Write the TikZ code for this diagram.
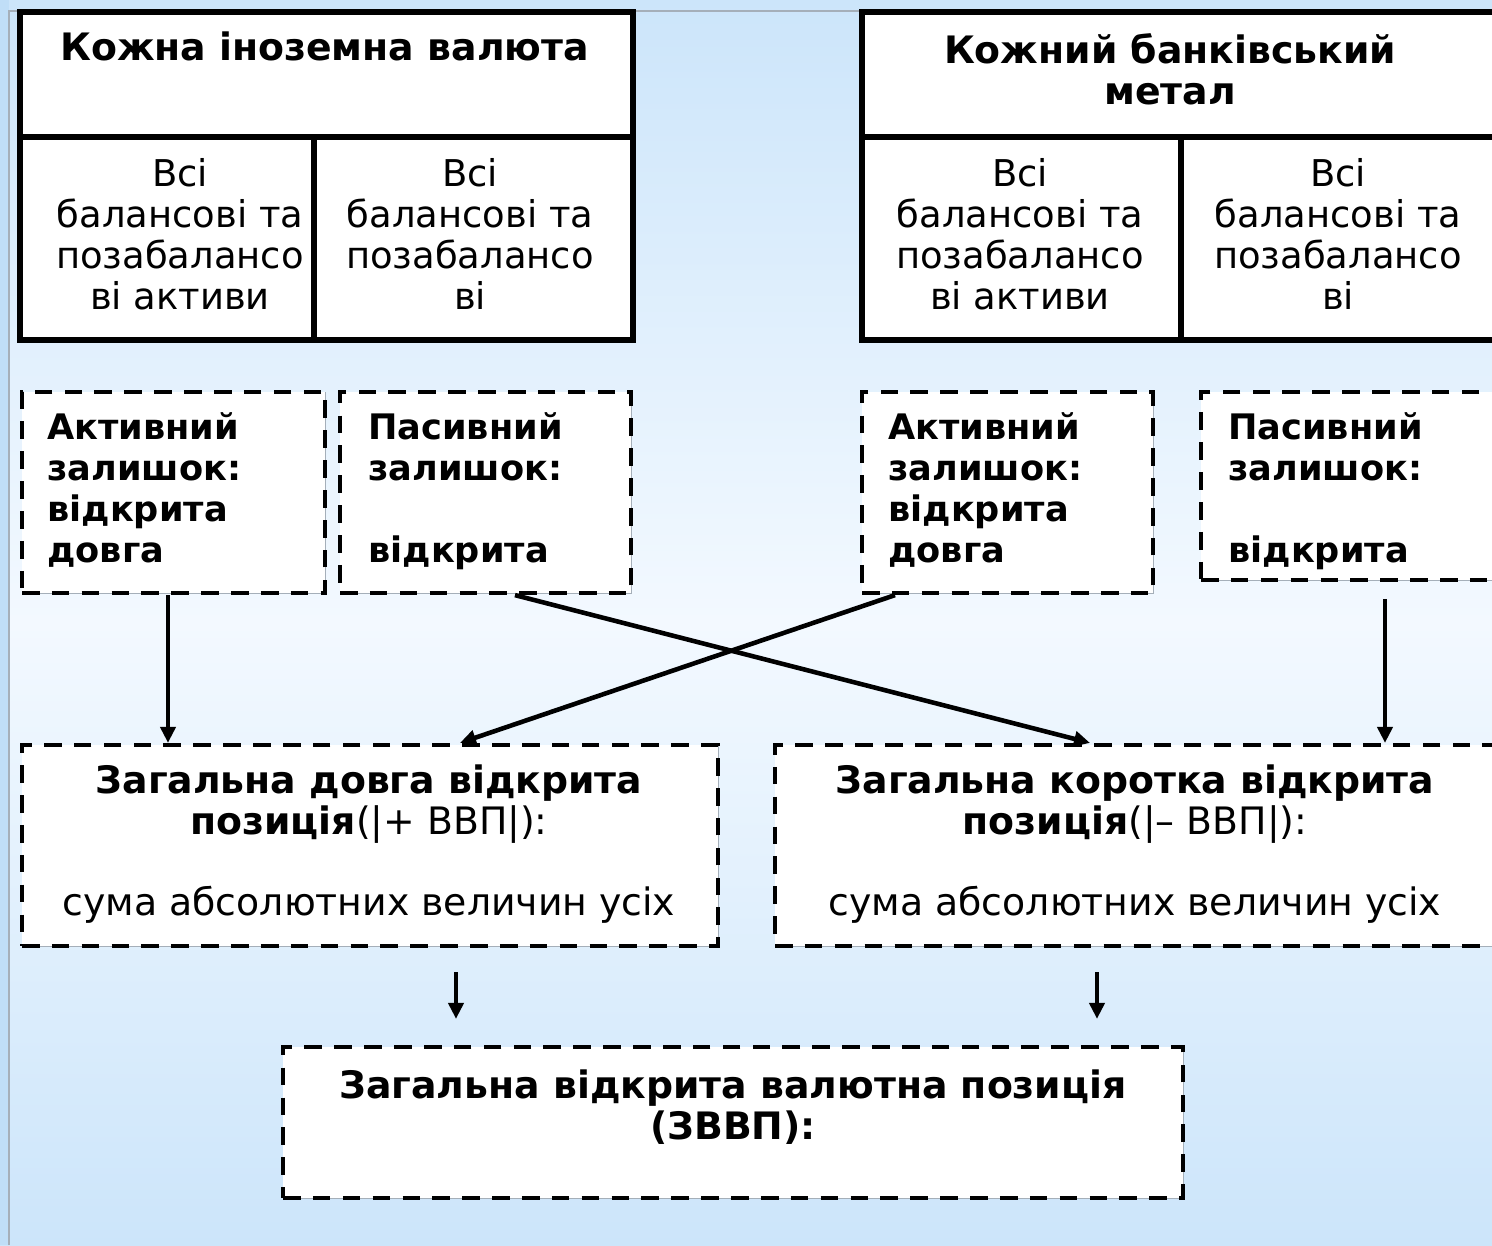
\documentclass[tikz,border=0pt]{standalone}
\usepackage{fontspec}
\setmainfont{DejaVu Sans}
\usetikzlibrary{arrows.meta, positioning, calc}

\definecolor{bgblue}{RGB}{204, 229, 250}
\definecolor{bglight}{RGB}{243, 249, 255}
\definecolor{stripblue}{RGB}{192, 222, 247}
\definecolor{framegray}{RGB}{165, 175, 185}

\tikzset{
  solidbox/.style={draw=black, line width=3pt, fill=white, inner sep=0pt},
  dashbox/.style={fill=white, draw=black, line width=2.4pt, dash pattern=on 10pt off 7pt, inner sep=0pt,
    preaction={draw=framegray, line width=0.5pt, solid}},
  headtext/.style={font=\fontsize{21.5}{23.3}\selectfont\bfseries, align=center, anchor=north, inner sep=0pt},
  celltext/.style={font=\fontsize{21}{23.3}\selectfont, align=center, anchor=north, inner sep=0pt},
  sidetext/.style={font=\fontsize{20}{23.3}\selectfont\bfseries, align=left, anchor=north west, inner sep=0pt},
  arr/.style={-{Triangle[length=0.32cm, width=0.3cm]}, line width=2.6pt}
}

\begin{document}
\begin{tikzpicture}
  \useasboundingbox (0,0) rectangle (29.84,-24.90);

  % background
  \shade[top color=bgblue, bottom color=bgblue, middle color=bglight] (0,0) rectangle (29.84,-24.90);
  \fill[stripblue] (0,0) rectangle (0.18,-24.90);
  \draw[framegray, line width=0.6pt] (0.18,-24.90) -- (0.18,-0.22) -- (17.2,-0.22);

  % foreign currency block
  \node[solidbox, minimum width=12.26cm, minimum height=2.50cm] (curhead) at (6.53, -1.49) {};
  \node[solidbox, minimum width=5.88cm, minimum height=4.06cm] (curact) at (3.34, -4.77) {};
  \node[solidbox, minimum width=6.38cm, minimum height=4.06cm] (curpas) at (9.47, -4.77) {};
  \node[headtext] (curtitle) at (6.49, -0.62) {Кожна іноземна валюта};
  \node[celltext] (curacttxt) at (3.60, -3.16) {Всі\\балансові та\\позабалансо\\ві активи};
  \node[celltext] (curpastxt) at (9.40, -3.16) {Всі\\балансові та\\позабалансо\\ві};

  % banking metal block
  \node[solidbox, minimum width=13.06cm, minimum height=2.50cm] (methead) at (23.77, -1.49) {};
  \node[solidbox, minimum width=6.38cm, minimum height=4.06cm] (metact) at (20.43, -4.77) {};
  \node[solidbox, minimum width=6.68cm, minimum height=4.06cm] (metpas) at (26.96, -4.77) {};
  \node[headtext] (mettitle) at (23.40, -0.66) {Кожний банківський\\метал};
  \node[celltext] (metacttxt) at (20.40, -3.16) {Всі\\балансові та\\позабалансо\\ві активи};
  \node[celltext] (metpastxt) at (26.76, -3.16) {Всі\\балансові та\\позабалансо\\ві};

  % balances
  \node[dashbox, minimum width=6.06cm, minimum height=4.02cm] (curlong) at (3.47, -9.85) {};
  \node[dashbox, minimum width=5.82cm, minimum height=4.02cm] (curshort) at (9.71, -9.85) {};
  \node[dashbox, minimum width=5.82cm, minimum height=4.02cm] (metlong) at (20.15, -9.85) {};
  \node[dashbox, minimum width=6.28cm, minimum height=3.76cm] (metshort) at (27.16, -9.72) {};
  \node[sidetext] (curlongtxt) at (0.94, -8.24) {Активний\\залишок:\\відкрита\\довга};
  \node[sidetext] (curshorttxt) at (7.36, -8.24) {Пасивний\\залишок:\\[23.3pt]відкрита};
  \node[sidetext] (metlongtxt) at (17.76, -8.24) {Активний\\залишок:\\відкрита\\довга};
  \node[sidetext] (metshorttxt) at (24.56, -8.24) {Пасивний\\залишок:\\[23.3pt]відкрита};

  % total long and short positions
  \node[dashbox, minimum width=13.92cm, minimum height=4.02cm] (totlong) at (7.40, -16.91) {};
  \node[dashbox, minimum width=14.80cm, minimum height=4.02cm] (totshort) at (22.90, -16.91) {};
  \node[headtext] (totlongtxt) at (7.38, -15.28) {Загальна довга відкрита\\позиція{\mdseries(|+ ВВП|):}\\[23.3pt]{\mdseries сума абсолютних величин усіх}};
  \node[headtext] (totshorttxt) at (22.70, -15.28) {Загальна коротка відкрита\\позиція{\mdseries(|– ВВП|):}\\[23.3pt]{\mdseries сума абсолютних величин усіх}};

  % total open currency position
  \node[dashbox, minimum width=18.00cm, minimum height=3.02cm] (total) at (14.66, -22.45) {};
  \node[headtext] (totaltxt) at (14.66, -21.38) {Загальна відкрита валютна позиція\\(ЗВВП):};

  % connectors
  \draw[arr] ([xshift=-0.11cm]curlong.south) -- ([xshift=-0.11cm]curlong.south |- totlong.north);
  \draw[arr] ([xshift=0.59cm]curshort.south) -- ([xshift=-1.10cm]totshort.north);
  \draw[arr] ([xshift=-2.25cm]metlong.south) -- ([xshift=1.80cm]totlong.north);
  \draw[arr, shorten <=0.34cm] ([xshift=0.54cm]metshort.south) -- ([xshift=0.54cm]metshort.south |- totshort.north);
  \draw[arr, shorten <=0.48cm, shorten >=0.52cm] ([xshift=1.72cm]totlong.south) -- ([xshift=1.72cm]totlong.south |- total.north);
  \draw[arr, shorten <=0.48cm, shorten >=0.52cm] ([xshift=-0.96cm]totshort.south) -- ([xshift=-0.96cm]totshort.south |- total.north);
\end{tikzpicture}
\end{document}
